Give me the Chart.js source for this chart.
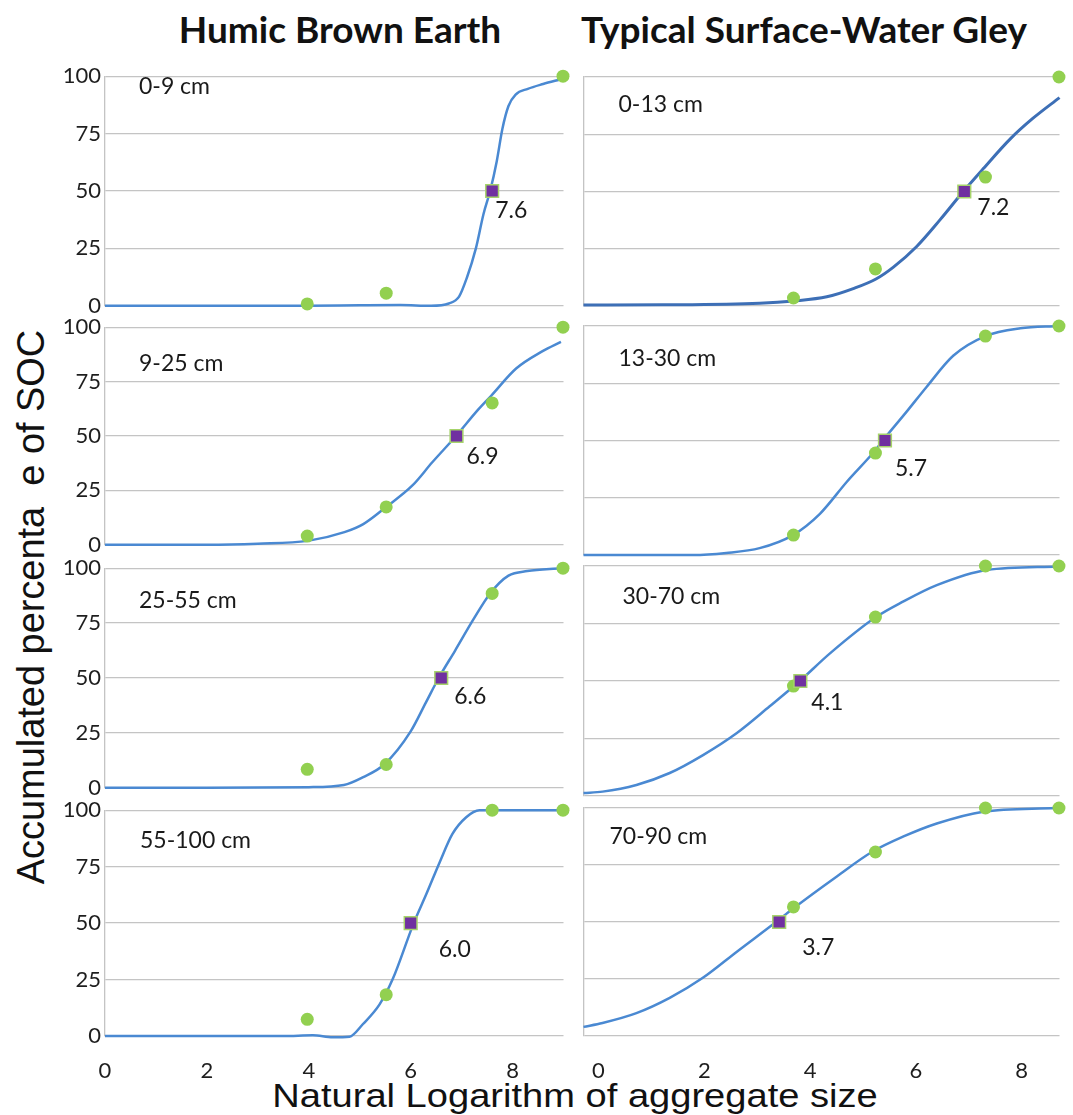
<!DOCTYPE html>
<html>
<head>
<meta charset="utf-8">
<title>Accumulated SOC by aggregate size</title>
<script src="https://cdn.jsdelivr.net/npm/chart.js@4.4.1/dist/chart.umd.min.js"></script>
<style>
  html, body { margin: 0; padding: 0; background: #fff; }
  body { position: relative; width: 1073px; height: 1115px; overflow: hidden; }
  canvas { position: absolute; }
  .col-title { position: absolute; top: 10px; font: bold 37px Lato, sans-serif; line-height: 37px; color: #111; white-space: nowrap; transform: translateX(-50%); }
  .axis-title { position: absolute; left: 0; top: 0; font-family: "Liberation Sans", Arial, sans-serif; color: #111; white-space: pre; line-height: 1; }
</style>
</head>
<body>
<div class="col-title" style="left:340px">Humic Brown Earth</div>
<div class="col-title" style="left:804px">Typical Surface-Water Gley</div>
<div class="axis-title" id="xTitle" style="font-size:34px">Natural Logarithm of aggregate size</div>
<div class="axis-title" id="yTitle" style="font-size:38px">Accumulated percenta  e of SOC</div>
<script>
// tick labels
const xTickValues = [0, 2, 4, 6, 8];
const yTickValues = [0, 25, 50, 75, 100];

// ln of the sieve sizes where SOC was measured
const sizeLn = [3.97, 5.52, 7.60, 8.99];
const medianLevel = 50;

// Humic Brown Earth
const hbeDepths = ['0-9 cm', '9-25 cm', '25-55 cm', '55-100 cm'];
const hbeMeasured = [
  [0.8, 5.5, null, 100],
  [4.0, 17.4, 65.2, 100],
  [8.4, 10.6, 88.5, 100],
  [7.4, 18.3, 100, 100]
];
const hbeMedian = [7.6, 6.9, 6.6, 6.0];
const hbeFitX = [
  [0, 1.5, 3, 4, 5, 5.8, 6.4, 6.75, 6.95, 7.1, 7.28, 7.43, 7.56, 7.69, 7.8, 7.92, 8.06, 8.3, 8.6, 8.95],
  [0, 2, 3, 3.98, 4.7, 5.07, 5.52, 6.04, 6.42, 6.89, 7.32, 7.58, 8.07, 8.59, 8.95],
  [0, 2, 4, 4.69, 5.07, 5.48, 6.0, 6.3, 6.55, 6.87, 7.24, 7.56, 7.92, 8.29, 8.95],
  [0, 2, 3.5, 4.08, 4.47, 4.8, 5.06, 5.39, 5.65, 6.06, 6.31, 6.57, 6.82, 7.09, 7.35, 8, 8.99]
];
const hbeFitY = [
  [0, 0, 0, 0, 0.2, 0.3, 0, 1, 4, 12, 25, 40, 50, 63, 77, 87, 92, 94.5, 96.6, 98.7],
  [0, 0, 0.5, 1.8, 5.8, 9.5, 17.4, 27.4, 37.8, 50, 62, 68.5, 81, 89, 93.3],
  [0, 0, 0.3, 1.3, 4.9, 10.6, 25.7, 38.9, 50, 62.4, 77, 88.5, 96.6, 98.7, 100],
  [0, 0, 0, 0.3, -0.6, -0.3, 5.2, 14, 25.3, 50, 63, 77, 89.5, 96.9, 100, 100, 100]
];

// Typical Surface-Water Gley
const tswgDepths = ['0-13 cm', '13-30 cm', '30-70 cm', '70-90 cm'];
const tswgMeasured = [
  [3.5, 16.2, 56.3, 100],
  [8.7, 44.5, 95.6, 100],
  [47.8, 77.8, 100, 100],
  [56.6, 80.7, 100, 100]
];
const tswgMedian = [7.2, 5.7, 4.1, 3.7];
const tswgFitX = [
  [0, 1.5, 3.33, 3.98, 4.6, 5.1, 5.53, 5.86, 6.3, 6.74, 7.18, 7.56, 8.07, 8.5, 9.0],
  [0, 2.07, 2.7, 3.33, 3.96, 4.47, 4.98, 5.51, 5.66, 6.11, 6.49, 6.99, 7.6, 8.26, 8.98],
  [0, 0.36, 1.0, 1.63, 2.26, 2.9, 3.52, 4.09, 4.66, 5.53, 6.04, 6.68, 7.63, 8.98],
  [0, 0.36, 1.0, 1.63, 2.25, 2.9, 3.64, 3.94, 4.79, 5.46, 6.04, 6.68, 7.56, 8.92]
];
const tswgFitY = [
  [0.4, 0.5, 1.2, 2.2, 4, 7.6, 11.8, 17, 26, 37.6, 50, 60, 73, 82, 91],
  [0, 0, 0.9, 3, 8.7, 18, 32, 45.5, 50, 62.6, 73.5, 87, 95.6, 99, 100],
  [1.3, 1.9, 4.8, 10, 17.8, 27.4, 39, 50, 62, 77.8, 84.5, 91.7, 98.3, 99.8],
  [4, 5.7, 10, 16.7, 25.4, 37, 50, 55.5, 70, 80.8, 87.4, 93.2, 98.4, 100]
];

// layout (pixels)
const leftCol = { left: 105, right: 564, axisW: 55, showY: true, labelOffset: 0 };
const rightCol = { left: 583, right: 1060, axisW: 1, showY: false, labelOffset: 15 };
const leftRows = [[73, 309], [324, 548], [565, 791], [807, 1036]];
const rightRows = [[77, 306], [326, 555], [566, 796], [808, 1036]];
const hbeDepthPos = [[34, 10], [34, 36], [34, 32], [35, 30]];
const tswgDepthPos = [[35, 28], [35, 33], [39, 31], [26, 29]];
const hbeMedPos = [[3, 20], [10, 21], [13, 19], [28, 26]];
const tswgMedPos = [[13, 16], [10, 28], [11, 22], [23, 26]];

const gridColor = '#C4C4C4';
Chart.defaults.font.family = 'Lato';
Chart.defaults.color = '#1e1e1e';

// depth label and D50 label inside each panel
const panelText = {
  id: 'panelText',
  afterDatasetsDraw(chart, args, o) {
    const { ctx, chartArea, scales } = chart;
    ctx.save();
    ctx.font = '23px Lato';
    ctx.fillStyle = '#1a1a1a';
    ctx.textBaseline = 'middle';
    ctx.textAlign = 'left';
    ctx.fillText(o.depth, chartArea.left + o.depthPos[0], chartArea.top + o.depthPos[1]);
    const px = scales.x.getPixelForValue(o.median);
    const py = scales.y.getPixelForValue(medianLevel);
    ctx.fillText(o.median.toFixed(1), px + o.medPos[0], py + o.medPos[1]);
    ctx.restore();
  }
};

function fixTicks(values) {
  return scale => { scale.ticks = values.map(v => ({ value: v })); };
}

function drawPanel(p) {
  const padT = 14, padR = 10;
  const padB = p.bottom ? 0 : 14;
  const padL = p.col.showY ? 0 : 9;
  const xAxisH = p.bottom ? 50 : 0;
  const left = p.col.left - p.col.axisW - padL;
  const top = p.row[0] - padT;

  const canvas = document.createElement('canvas');
  canvas.width = p.col.right + padR - left;
  canvas.height = p.row[1] - p.row[0] + padT + padB + xAxisH;
  canvas.style.left = left + 'px';
  canvas.style.top = top + 'px';
  document.body.appendChild(canvas);

  new Chart(canvas, {
    type: 'scatter',
    data: {
      datasets: [
        {
          data: [{ x: p.median, y: medianLevel }],
          pointStyle: 'rect', pointRadius: 9,
          backgroundColor: '#7030A0', borderColor: '#A6D46A', borderWidth: 1.5,
          order: 0, clip: false
        },
        {
          data: sizeLn.map((x, i) => ({ x: x, y: p.measured[i] })),
          pointRadius: 6.5, backgroundColor: '#92D050', borderWidth: 0,
          order: 1, clip: false
        },
        {
          data: p.fitX.map((x, i) => ({ x: x, y: p.fitY[i] })),
          showLine: true, pointRadius: 0,
          borderColor: p.lineColor, borderWidth: p.lineWidth,
          cubicInterpolationMode: 'monotone',
          order: 2, clip: false
        }
      ]
    },
    options: {
      responsive: false,
      animation: false,
      events: [],
      layout: { padding: { top: padT, right: padR, bottom: padB, left: padL } },
      plugins: {
        legend: { display: false },
        tooltip: { enabled: false },
        panelText: { depth: p.depth, depthPos: p.depthPos, median: p.median, medPos: p.medPos }
      },
      scales: {
        x: {
          type: 'linear', min: 0, max: 9,
          display: p.bottom,
          afterBuildTicks: fixTicks(xTickValues),
          // keep the plot edges where the figure has them
          afterFit: s => { s.height = xAxisH; s.paddingLeft = 0; s.paddingRight = 0; },
          grid: { display: false },
          border: { display: false },
          ticks: { font: { size: 22 }, padding: 14, labelOffset: p.col.labelOffset, maxRotation: 0, autoSkip: false }
        },
        y: {
          min: 0, max: 100,
          afterBuildTicks: fixTicks(yTickValues),
          afterFit: s => { s.width = p.col.axisW; },
          grid: { color: gridColor, lineWidth: 1.3, drawTicks: false },
          border: { display: true, color: gridColor, width: 1.3 },
          ticks: { display: p.col.showY, font: { size: 22 }, padding: 4 }
        }
      }
    },
    plugins: [panelText]
  });
}

for (let i = 0; i < 4; i++) {
  drawPanel({
    col: leftCol, row: leftRows[i], bottom: i === 3,
    fitX: hbeFitX[i], fitY: hbeFitY[i], measured: hbeMeasured[i], median: hbeMedian[i],
    depth: hbeDepths[i], depthPos: hbeDepthPos[i], medPos: hbeMedPos[i],
    lineColor: '#4A89D2', lineWidth: 2.5
  });
  drawPanel({
    col: rightCol, row: rightRows[i], bottom: i === 3,
    fitX: tswgFitX[i], fitY: tswgFitY[i], measured: tswgMeasured[i], median: tswgMedian[i],
    depth: tswgDepths[i], depthPos: tswgDepthPos[i], medPos: tswgMedPos[i],
    lineColor: i === 0 ? '#3D6FB6' : '#4A89D2', lineWidth: i === 0 ? 3 : 2.5
  });
}

// axis titles, stretched to the length they have in the figure
function placeTitle(el, length, cx, cy, rotate) {
  const k = length / el.offsetWidth;
  el.style.left = cx + 'px';
  el.style.top = cy + 'px';
  el.style.transform = 'translate(-50%, -50%) ' + (rotate ? 'rotate(-90deg) ' : '') + 'scaleX(' + k + ')';
}
placeTitle(document.getElementById('xTitle'), 606, 575, 1095, false);
placeTitle(document.getElementById('yTitle'), 555, 31, 607, true);
</script>
</body>
</html>
